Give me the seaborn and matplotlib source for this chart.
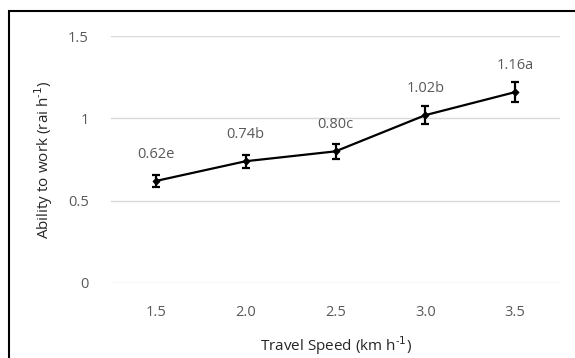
import matplotlib
matplotlib.use("Agg")
import matplotlib.pyplot as plt
import seaborn as sns
import pandas as pd
from matplotlib.patches import Rectangle

# data
speed = ["1.5", "2.0", "2.5", "3.0", "3.5"]
ability = [0.62, 0.74, 0.80, 1.02, 1.16]
err = [0.035, 0.04, 0.045, 0.055, 0.062]
letters = ["e", "b", "c", "b", "a"]

df = pd.DataFrame({"speed": speed, "ability": ability})

sns.set_style("white")
plt.rcParams["font.family"] = ["Open Sans", "DejaVu Sans"]

fig = plt.figure(figsize=(5.75, 3.58), dpi=100)
ax = fig.add_axes([0.193, 0.2095, 0.781, 0.6895])

sns.lineplot(data=df, x="speed", y="ability", color="black", linewidth=1.6,
             marker="D", markersize=3.5, markeredgecolor="black", ax=ax, zorder=3)
ax.errorbar(range(len(speed)), ability, yerr=err, fmt="none", ecolor="black",
            elinewidth=1.6, capsize=3, capthick=1.6, zorder=3)

for i, (v, l) in enumerate(zip(ability, letters)):
    ax.annotate("%.2f%s" % (v, l), (i, v), xytext=(0, 19), textcoords="offset points",
                ha="center", va="center", fontsize=10.5, color="#595959")

ax.set_xlim(-0.5, len(speed) - 0.5)
ax.set_ylim(0, 1.5)
ax.set_yticks([0, 0.5, 1, 1.5])
ax.set_yticklabels(["0", "0.5", "1", "1.5"])
ax.yaxis.grid(True, color="#d9d9d9", linewidth=1)
ax.xaxis.grid(False)
for s in ax.spines.values():
    s.set_visible(False)
ax.tick_params(axis="both", length=0, labelsize=10.5, labelcolor="#595959")
ax.tick_params(axis="x", pad=16)
ax.tick_params(axis="y", pad=16)

# superscript with a plain hyphen, as in the original
ax.set_xlabel("Travel Speed (km h$^{\\mathregular{\u2010}1}$)", fontsize=11, color="#262626", labelpad=10)
ax.set_ylabel("Ability to work (rai h$^{\\mathregular{\u2010}1}$)", fontsize=11, color="#262626", labelpad=9)

# outer frame, cut off at right and bottom
fig.patches.append(Rectangle((9 / 575, -0.1), 1.2, 1 - 11 / 358 + 0.1,
                             transform=fig.transFigure, fill=False,
                             edgecolor="black", linewidth=1.5))

fig.savefig("out.png", dpi=100)
